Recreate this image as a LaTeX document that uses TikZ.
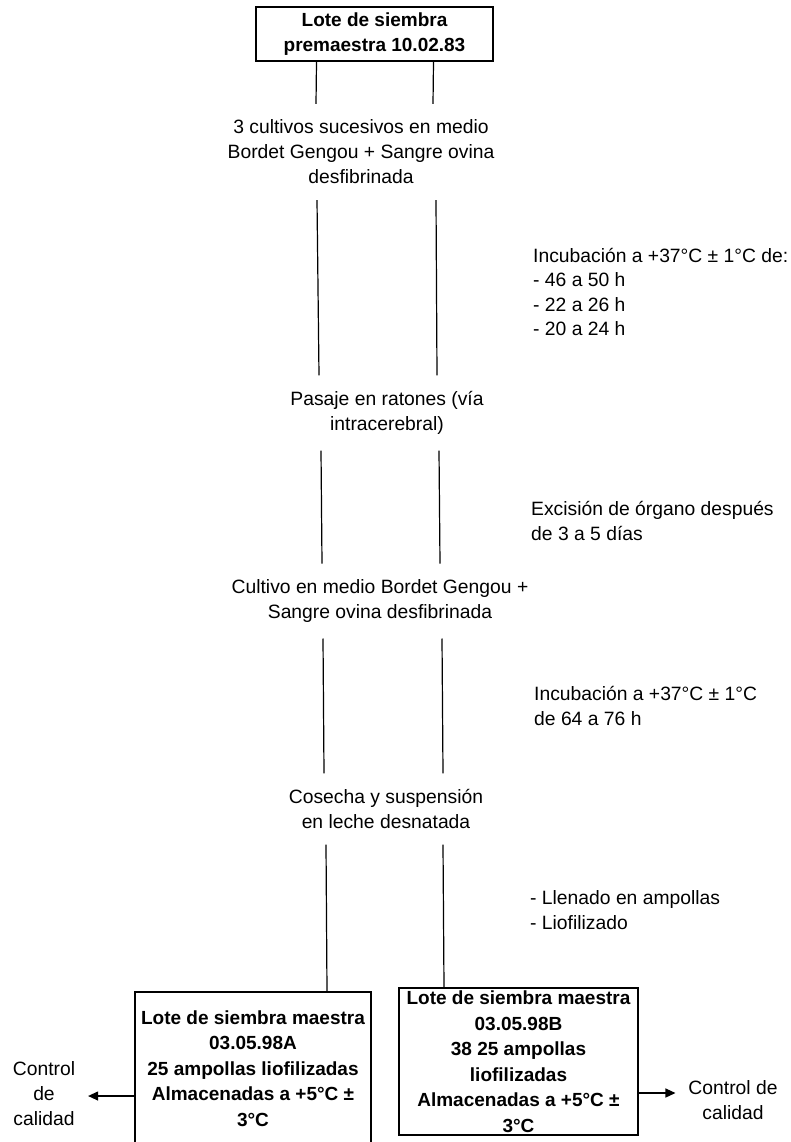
\documentclass[tikz,border=0pt]{standalone}
\usepackage{fontspec}
\setmainfont{Liberation Sans}
\usetikzlibrary{arrows.meta}

\begin{document}
\begin{tikzpicture}[x=1pt, y=-1pt,
    stage/.style = {align=center, inner sep=0pt, outer ysep=16pt,
                    font=\fontsize{19.3}{25}\selectfont},
    note/.style  = {align=left, anchor=west, inner sep=0pt,
                    font=\fontsize{19.3}{24.5}\selectfont},
    lote/.style  = {draw, line width=1.4pt, align=center, inner sep=0pt,
                    font=\fontsize{19}{25.5}\selectfont\bfseries},
    check/.style = {stage, outer ysep=0pt, outer xsep=13pt},
    link/.style  = {line width=1.2pt}]
    % Fix the page
    \useasboundingbox (0,0) rectangle (791,1142);
    \clip (0,0) rectangle (791,1142);

    % Draw the chain of steps
    \node[lote, minimum width=237pt, minimum height=54pt] (top) at (374.5,34)
        {Lote de siembra\\premaestra 10.02.83};
    \node[stage] (cult3) at (361,152)
        {3 cultivos sucesivos en medio\\Bordet Gengou + Sangre ovina\\desfibrinada};
    \node[stage] (mice) at (387,413) {Pasaje en ratones (vía\\intracerebral)};
    \node[stage] (cult) at (380,601)
        {Cultivo en medio Bordet Gengou +\\Sangre ovina desfibrinada};
    \node[stage] (harvest) at (386,809) {Cosecha y suspensión\\en leche desnatada};

    % Draw the notes beside the steps
    \node[note] (incub1) at (533,292)
        {Incubación a +37°C ± 1°C de:\\- 46 a 50 h\\- 22 a 26 h\\- 20 a 24 h};
    \node[note] (excis) at (531,521) {Excisión de órgano después\\de 3 a 5 días};
    \node[note] (incub2) at (534,706) {Incubación a +37°C ± 1°C\\de 64 a 76 h};
    \node[note] (fill) at (530,910) {- Llenado en ampollas\\- Liofilizado};

    % Draw the two master lots
    \node[lote, minimum width=236pt, minimum height=153pt] (lotA) at (253,1068.5)
        {Lote de siembra maestra\\03.05.98A\\25 ampollas liofilizadas\\Almacenadas a +5°C ±\\3°C};
    \node[lote, minimum width=239pt, minimum height=147pt] (lotB) at (518.5,1061.5)
        {Lote de siembra maestra\\03.05.98B\\38 25 ampollas\\liofilizadas\\Almacenadas a +5°C ±\\3°C};
    \node[check] (qcA) at (44,1094) {Control\\de\\calidad};
    \node[check] (qcB) at (733,1100) {Control de\\calidad};

    % Draw the double lines between the steps
    \draw[link] ([xshift=-58pt]top.south) -- ([xshift=-45pt]cult3.north);
    \draw[link] ([xshift=59pt]top.south) -- ([xshift=72pt]cult3.north);

    \draw[link] ([xshift=-44pt]cult3.south) -- ([xshift=-68pt]mice.north);
    \draw[link] ([xshift=75pt]cult3.south) -- ([xshift=50pt]mice.north);

    \draw[link] ([xshift=-66pt]mice.south) -- ([xshift=-58pt]cult.north);
    \draw[link] ([xshift=52pt]mice.south) -- ([xshift=60pt]cult.north);

    \draw[link] ([xshift=-57pt]cult.south) -- ([xshift=-62pt]harvest.north);
    \draw[link] ([xshift=62pt]cult.south) -- ([xshift=57pt]harvest.north);

    \draw[link] ([xshift=-60pt]harvest.south) -- ([xshift=74pt]lotA.north);
    \draw[link] ([xshift=57pt]harvest.south) -- ([xshift=-74.5pt]lotB.north);

    % Draw the arrows to quality control
    \draw[link, -{Triangle[length=10pt,width=9pt]}] ([yshift=-27.5pt]lotA.west) -- ([yshift=-2pt]qcA.east);
    \draw[link, -{Triangle[length=10pt,width=9pt]}] ([yshift=-31.5pt]lotB.east) -- ([yshift=7pt]qcB.west);
\end{tikzpicture}
\end{document}
